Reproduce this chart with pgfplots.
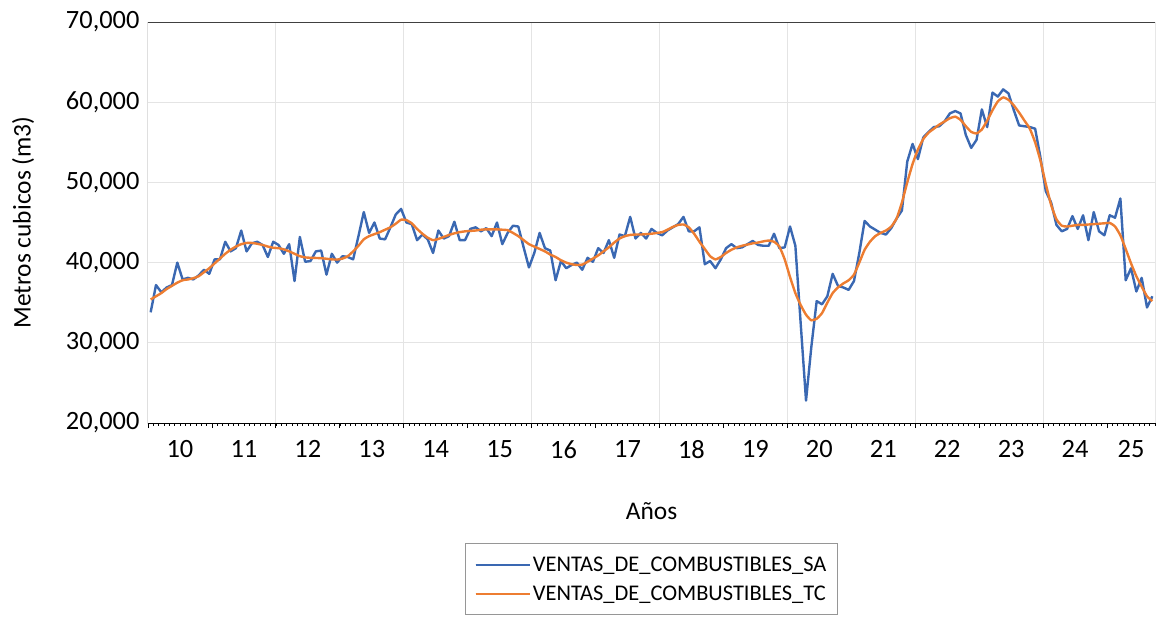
\documentclass[border=0pt]{standalone}
\usepackage{pgfplots}
\usepackage{pgfplotstable}
\pgfplotsset{compat=1.18}
\usepackage{fontspec}
\setmainfont{Carlito}
\definecolor{saBlue}{RGB}{58,104,178}
\definecolor{tcOrange}{RGB}{237,125,49}
\definecolor{gridGray}{RGB}{228,228,228}
\pgfplotstableread{
i sa tc
0 33800 35400
1 37200 35800
2 36300 36200
3 36900 36700
4 37200 37100
5 40000 37500
6 37900 37800
7 38100 37900
8 37900 38050
9 38400 38300
10 39100 38800
11 38600 39300
12 40400 39900
13 40400 40500
14 42600 41100
15 41400 41600
16 41800 42000
17 44000 42300
18 41400 42450
19 42400 42450
20 42600 42350
21 42200 42200
22 40700 42000
23 42600 41850
24 42200 41800
25 41100 41650
26 42300 41400
27 37700 41100
28 43200 40800
29 40100 40650
30 40200 40600
31 41400 40580
32 41500 40550
33 38500 40480
34 41100 40400
35 40000 40380
36 40800 40500
37 40700 40800
38 40400 41400
39 43300 42100
40 46300 42900
41 43700 43300
42 45000 43550
43 43000 43800
44 42900 44100
45 44400 44400
46 46000 44850
47 46700 45350
48 45000 45300
49 44800 44900
50 42800 44200
51 43500 43600
52 42900 43100
53 41200 42800
54 44000 42950
55 43000 43200
56 43300 43450
57 45100 43650
58 42800 43800
59 42800 43900
60 44200 43950
61 44400 44000
62 43900 44100
63 44300 44150
64 43300 44150
65 45000 44150
66 42300 44100
67 43700 44050
68 44600 43700
69 44500 43300
70 41900 42800
71 39400 42300
72 41200 42000
73 43700 41700
74 41800 41400
75 41500 41000
76 37800 40700
77 40200 40300
78 39300 40000
79 39700 39800
80 40000 39700
81 39100 39750
82 40600 40100
83 40100 40500
84 41800 40900
85 41200 41400
86 42800 41900
87 40600 42500
88 43500 43000
89 43300 43300
90 45700 43450
91 43000 43500
92 43700 43500
93 43000 43550
94 44200 43600
95 43700 43700
96 43400 43800
97 44000 44100
98 44400 44450
99 44800 44700
100 45700 44750
101 43900 44400
102 43900 43600
103 44400 42600
104 39800 41700
105 40200 40800
106 39300 40400
107 40400 40700
108 41800 41200
109 42300 41600
110 41800 41900
111 41900 42100
112 42300 42250
113 42700 42400
114 42200 42500
115 42100 42650
116 42100 42750
117 43600 42600
118 41800 42000
119 41900 40400
120 44500 38200
121 42100 36200
122 32400 34700
123 22800 33500
124 29500 32800
125 35200 33000
126 34800 33700
127 35800 35000
128 38600 36200
129 37100 36900
130 36900 37400
131 36600 37800
132 37700 38500
133 41200 40000
134 45200 41600
135 44500 42600
136 44100 43300
137 43700 43700
138 43500 44000
139 44300 44500
140 45500 45500
141 46500 47500
142 52600 50000
143 54800 52300
144 52900 54100
145 55600 55400
146 56300 56200
147 56900 56700
148 57000 57200
149 57600 57600
150 58600 58000
151 58900 58200
152 58600 57800
153 55900 57000
154 54300 56300
155 55300 56100
156 59100 56600
157 56900 57700
158 61200 59000
159 60700 60100
160 61600 60600
161 61100 60300
162 59000 59600
163 57100 58700
164 57000 57700
165 56900 56700
166 56700 55000
167 53100 52700
168 48900 49800
169 47500 47200
170 44700 45400
171 43900 44600
172 44200 44500
173 45800 44600
174 44200 44700
175 45900 44700
176 42800 44750
177 46300 44800
178 43900 44850
179 43400 44900
180 45900 44950
181 45600 44500
182 48000 43400
183 37800 41700
184 39300 39900
185 36400 38300
186 38100 37000
187 34400 35800
188 35800 35200
}\datatable
\begin{document}
\begin{tikzpicture}
\begin{axis}[
  scale only axis,
  width=1007bp, height=401bp,
  xmin=0, xmax=189,
  ymin=20000, ymax=70000,
  axis line style={draw=none},
  tick align=outside,
  xtick pos=lower, ytick pos=left,
  major tick length=0bp,
  minor tick length=2.5bp,
  xtick={6,18,30,42,54,66,78,90,102,114,126,138,150,162,174,184.5},
  xticklabels={10,11,12,13,14,15,16,17,18,19,20,21,22,23,24,25},
  minor xtick={0,1,...,189},
  minor x tick style={draw=black, line width=0.6bp},
  extra x ticks={0,12,24,36,48,60,72,84,96,108,120,132,144,156,168,180},
  extra x tick labels={},
  extra x tick style={major tick length=5bp, tick style={draw=black, line width=0.8bp}, grid=none},
  ytick={20000,30000,40000,50000,60000,70000},
  ymajorgrids,
  grid style={draw=gridGray, line width=1bp},
  scaled y ticks=false,
  /pgf/number format/fixed,
  /pgf/number format/1000 sep={,},
  /pgf/number format/assume math mode=true,
  tick label style={font=\fontsize{26.5}{30}\selectfont, text=black},
  xticklabel style={yshift=-14bp},
  yticklabel style={xshift=-5bp},
  xlabel={Años},
  ylabel={Metros cubicos (m3)},
  label style={font=\fontsize{25.5}{30}\selectfont},
  xlabel style={at={(axis description cs:0.5,-0.22)}, anchor=center},
  ylabel style={at={(axis description cs:-0.124,0.5)}, anchor=center},
  legend style={at={(axis description cs:0.5,-0.30)}, anchor=north,
    draw={rgb,255:red,150;green,150;blue,150}, line width=0.8bp,
    font=\fontsize{22.5}{27}\selectfont, row sep=9bp,
    inner xsep=9bp, inner ysep=11bp, cells={anchor=west}},
  legend image code/.code={\path (0bp,0bp) -- (54bp,0bp); \draw[#1] (0bp,0bp) -- (45bp,0bp);},
]
\coordinate (O) at (rel axis cs:0,0);
\pgfplotsinvokeforeach{24,48,72,96,120,144,168}{
  \draw[gridGray, line width=1bp] (axis cs:#1,20000) -- (axis cs:#1,70000);
}
\addplot[saBlue, line width=2.4bp, line join=round] table[x expr=\thisrow{i}+0.5, y=sa] {\datatable};
\addlegendentry{VENTAS\_DE\_COMBUSTIBLES\_SA}
\addplot[tcOrange, line width=2.4bp, line join=round, smooth, tension=0.3] table[x expr=\thisrow{i}+0.5, y=tc] {\datatable};
\addlegendentry{VENTAS\_DE\_COMBUSTIBLES\_TC}
\draw[black!75, line width=1bp] (rel axis cs:0,1) -- (rel axis cs:1,1) -- (rel axis cs:1,0);
\draw[black, line width=1bp] (rel axis cs:0,1) -- (rel axis cs:0,0) -- (rel axis cs:1,0);
\end{axis}
\pgfresetboundingbox
\useasboundingbox ([shift={(-148bp,-196bp)}]O) rectangle ++(1158bp,619bp);
\end{tikzpicture}
\end{document}
